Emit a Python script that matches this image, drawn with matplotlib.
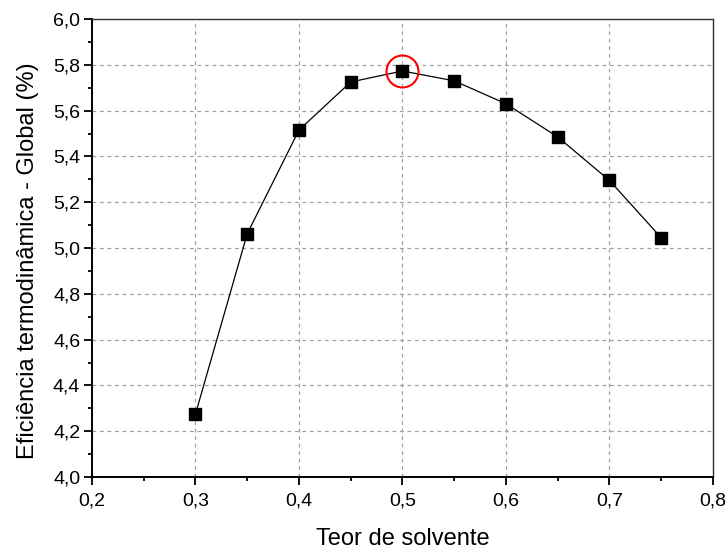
import matplotlib
matplotlib.use("Agg")
import matplotlib.pyplot as plt
from matplotlib.ticker import MultipleLocator, FuncFormatter

plt.rcParams["font.family"] = ["Liberation Sans", "DejaVu Sans"]

teor = [0.30, 0.35, 0.40, 0.45, 0.50, 0.55, 0.60, 0.65, 0.70, 0.75]
eficiencia = [4.275, 5.062, 5.515, 5.725, 5.773, 5.730, 5.630, 5.485, 5.295, 5.045]
destaque_x = [0.50]
destaque_y = [5.773]


def virgula(v, pos):
    return f"{v:.1f}".replace(".", ",")


fig = plt.figure(figsize=(7.26, 5.51), dpi=100)
ax = fig.add_axes([0.1267, 0.1343, 0.8553, 0.8312])

ax.plot(teor, eficiencia, color="black", lw=0.9, marker="s", ms=8,
        mec="black", mfc="black", zorder=3)
ax.plot(destaque_x, destaque_y, ls="none", marker="o", ms=23, mfc="none",
        mec="red", mew=1.5, zorder=4)

ax.set_xlim(0.2, 0.8)
ax.set_ylim(4.0, 6.0)
ax.xaxis.set_major_locator(MultipleLocator(0.1))
ax.xaxis.set_minor_locator(MultipleLocator(0.05))
ax.yaxis.set_major_locator(MultipleLocator(0.2))
ax.yaxis.set_minor_locator(MultipleLocator(0.1))
ax.xaxis.set_major_formatter(FuncFormatter(virgula))
ax.yaxis.set_major_formatter(FuncFormatter(virgula))

ax.grid(True, which="major", ls=(0, (3, 3)), color="#a0a0a0", lw=0.9)
ax.tick_params(which="major", direction="out", length=5.5, width=1.3,
               labelsize=14, colors="black")
ax.tick_params(axis="x", which="major", pad=6)
ax.tick_params(axis="y", which="major", pad=3)
ax.tick_params(which="minor", direction="out", length=3, width=1.3)

for s in ["left", "bottom"]:
    ax.spines[s].set_linewidth(1.4)
for s in ["top", "right"]:
    ax.spines[s].set_linewidth(1.0)
    ax.spines[s].set_color("#333333")

ax.set_xlabel("Teor de solvente", fontsize=17, labelpad=13)
ax.set_ylabel("Eficiência termodinâmica - Global (%)", fontsize=17)
ax.yaxis.set_label_coords(-0.085, 0.472)

fig.savefig("out.png", dpi=100)
